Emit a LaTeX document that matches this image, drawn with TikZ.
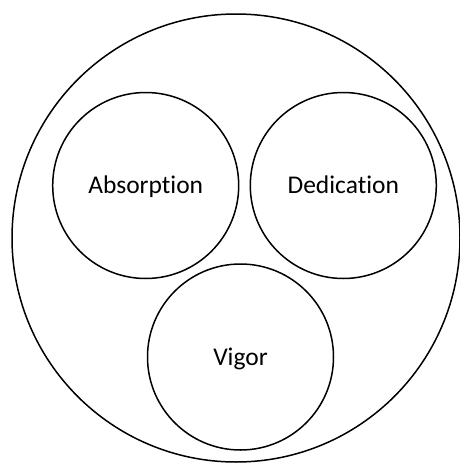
\documentclass[tikz,border=0pt]{standalone}
\usepackage{fontspec}
\setmainfont{Carlito}[Ligatures={NoCommon,NoContextual},Contextuals=NoAlternate]
\begin{document}
\begin{tikzpicture}[x=1pt,y=1pt,
  ring/.style={draw=black,line width=1.5pt,circle,minimum size=186pt,inner sep=0pt,
    font=\fontsize{25.5}{30}\selectfont,text height=16.5pt,text depth=0pt}]
\useasboundingbox (0,0) rectangle (460,-463);
\clip (0,0) rectangle (460,-463);
\node[draw=black,line width=1.5pt,circle,minimum size=448pt,inner sep=0pt] (outer) at (236,-238) {};
\node[ring] (absorption) at (145.7,-185.5) {Absorption};
\node[ring] (dedication) at (343.3,-185.5) {Dedication};
\node[ring] (vigor) at (240.5,-357) {Vigor};
\end{tikzpicture}
\end{document}
